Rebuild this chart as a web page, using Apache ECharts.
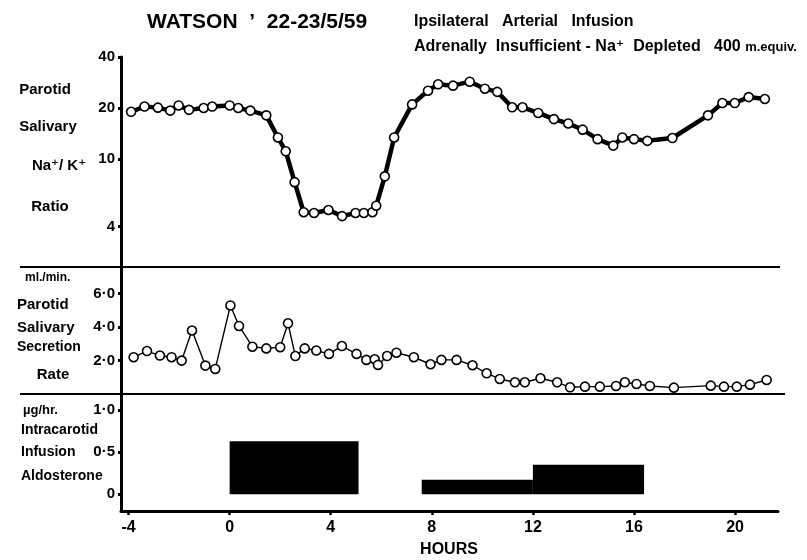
<!DOCTYPE html>
<html>
<head>
<meta charset="utf-8">
<script src="https://cdn.jsdelivr.net/npm/echarts@6/dist/echarts.min.js"></script>
<style>
  html, body { margin: 0; padding: 0; background: #fff; }
  #chart { width: 807px; height: 560px; }
</style>
</head>
<body>
<div id="chart"></div>
<script>
// hours from start of infusion
const ratioHours = [-3.9, -3.37, -2.84, -2.35, -2.02, -1.61, -1.03, -0.69, 0.0, 0.34, 0.82, 1.45, 1.91, 2.22, 2.57, 2.93, 3.34, 3.91, 4.45, 4.98, 5.31, 5.65, 5.8, 6.14, 6.51, 7.22, 7.85, 8.25, 8.84, 9.5, 10.1, 10.59, 11.18, 11.59, 12.21, 12.83, 13.4, 13.97, 14.56, 15.18, 15.54, 16.0, 16.53, 17.52, 18.93, 19.5, 19.99, 20.54, 21.18];
const ratioValues = [19.0, 20.4, 20.1, 19.3, 20.7, 19.5, 20.0, 20.4, 20.7, 20.0, 19.3, 18.1, 13.4, 11.1, 7.3, 4.85, 4.8, 5.0, 4.6, 4.8, 4.8, 4.85, 5.3, 7.9, 13.4, 21.0, 25.3, 27.6, 27.1, 28.6, 26.0, 24.9, 20.2, 20.2, 18.7, 17.2, 16.2, 14.9, 13.1, 12.0, 13.4, 13.1, 12.8, 13.3, 18.1, 21.4, 21.4, 23.2, 22.6];

const rateHours = [-3.8, -3.27, -2.76, -2.3, -1.9, -1.49, -0.96, -0.57, 0.03, 0.37, 0.9, 1.45, 2.0, 2.31, 2.6, 2.97, 3.43, 3.93, 4.44, 5.02, 5.41, 5.74, 5.87, 6.23, 6.6, 7.29, 7.95, 8.38, 8.98, 9.61, 10.17, 10.69, 11.29, 11.68, 12.3, 12.96, 13.47, 14.06, 14.65, 15.29, 15.64, 16.1, 16.63, 17.58, 19.04, 19.56, 20.07, 20.59, 21.25];
const rateValues = [2.2, 2.57, 2.3, 2.2, 2.0, 3.8, 1.7, 1.5, 5.3, 4.07, 2.83, 2.73, 2.8, 4.23, 2.27, 2.73, 2.6, 2.4, 2.87, 2.4, 2.04, 2.08, 1.74, 2.27, 2.47, 2.2, 1.78, 2.04, 2.04, 1.72, 1.24, 0.9, 0.7, 0.7, 0.94, 0.7, 0.4, 0.44, 0.44, 0.48, 0.7, 0.6, 0.48, 0.38, 0.5, 0.44, 0.44, 0.56, 0.84];

// aldosterone infusion periods (µg/hr)
const aldoStart = [0, 7.6, 12];
const aldoEnd = [5.1, 12, 16.4];
const aldoDose = [0.63, 0.17, 0.35];

const hourTicks = [-4, 0, 4, 8, 12, 16, 20];
const ratioTicks = [4, 10, 20, 40];
const rateTicks = [2, 4, 6];
const doseTicks = [0, 0.5, 1];

const FONT = "'Liberation Sans', 'DejaVu Sans', sans-serif";
const myChart = echarts.init(document.getElementById("chart"));

function txt(text, x, y, size, align) {
  return {
    type: "text",
    x: x,
    y: y,
    style: {
      text: text,
      fill: "#000",
      font: "bold " + size + "px " + FONT,
      textAlign: align || "left",
      textVerticalAlign: "middle",
    },
  };
}

function yAxisBase(gridIndex, min, max, ticks, fmt) {
  return {
    type: "value",
    gridIndex: gridIndex,
    min: min,
    max: max,
    position: "left",
    axisLine: { show: true, onZero: false, lineStyle: { color: "#000", width: 3 } },
    axisTick: { show: true, customValues: ticks, length: 3, lineStyle: { width: 3, color: "#000" } },
    axisLabel: {
      customValues: ticks,
      formatter: fmt,
      color: "#000",
      fontFamily: FONT,
      fontWeight: "bold",
      fontSize: 15,
      margin: 6,
    },
    splitLine: { show: false },
  };
}

function xAxisBase(gridIndex, show) {
  return {
    type: "value",
    gridIndex: gridIndex,
    min: -4.3,
    max: 21.7,
    show: show,
    position: "bottom",
    axisLine: { show: true, onZero: false, lineStyle: { color: "#000", width: 3 } },
    axisTick: { show: true, customValues: hourTicks, length: 4, lineStyle: { width: 2.5, color: "#000" } },
    axisLabel: {
      customValues: hourTicks,
      color: "#000",
      fontFamily: FONT,
      fontWeight: "bold",
      fontSize: 16,
      margin: 9,
    },
    splitLine: { show: false },
  };
}

const markerStyle = { color: "#fff", borderColor: "#000", borderWidth: 1.6 };

myChart.setOption({
  animation: false,
  backgroundColor: "#fff",
  grid: [
    { left: 121, right: 29, top: 57, height: 210 },
    { left: 121, right: 29, top: 267, height: 127 },
    { left: 121, right: 29, top: 394, height: 117 },
  ],
  xAxis: [xAxisBase(0, false), xAxisBase(1, false), xAxisBase(2, true)],
  yAxis: [
    yAxisBase(0, Math.log10(40) - 1.2396, Math.log10(40), ratioTicks.map(Math.log10), (v) => String(Math.round(Math.pow(10, v)))),
    yAxisBase(1, 0, 7.6, rateTicks, (v) => v.toFixed(1).replace(".", "·")),
    yAxisBase(2, -0.2, 1.19, doseTicks, (v) => (v === 0 ? "0" : v.toFixed(1).replace(".", "·"))),
  ],
  series: [
    {
      name: "Na/K ratio",
      type: "line",
      xAxisIndex: 0,
      yAxisIndex: 0,
      data: ratioHours.map((h, i) => [h, Math.log10(ratioValues[i])]),
      symbol: "circle",
      symbolSize: 9,
      itemStyle: markerStyle,
      lineStyle: { color: "#000", width: 4.5 },
    },
    {
      name: "secretion rate",
      type: "line",
      xAxisIndex: 1,
      yAxisIndex: 1,
      data: rateHours.map((h, i) => [h, rateValues[i]]),
      symbol: "circle",
      symbolSize: 9,
      itemStyle: markerStyle,
      lineStyle: { color: "#000", width: 1.4 },
    },
    {
      name: "aldosterone",
      type: "custom",
      xAxisIndex: 2,
      yAxisIndex: 2,
      encode: { x: [0, 1], y: 2 },
      data: aldoStart.map((s, i) => [s, aldoEnd[i], aldoDose[i]]),
      renderItem: function (params, api) {
        const p0 = api.coord([api.value(0), api.value(2)]);
        const p1 = api.coord([api.value(1), 0]);
        return {
          type: "rect",
          shape: { x: p0[0], y: p0[1], width: p1[0] - p0[0], height: p1[1] - p0[1] },
          style: { fill: "#000" },
        };
      },
    },
  ],
  graphic: [
    // panel separators
    { type: "line", shape: { x1: 20, y1: 267, x2: 780, y2: 267 }, style: { stroke: "#000", lineWidth: 2 } },
    { type: "line", shape: { x1: 20, y1: 394, x2: 785, y2: 394 }, style: { stroke: "#000", lineWidth: 2 } },
    // title
    txt("WATSON  ’  22-23/5/59", 147, 22, 21),
    txt("Ipsilateral   Arterial   Infusion", 414, 22, 16),
    {
      type: "text",
      x: 414,
      y: 47,
      style: {
        text: "{a|Adrenally  Insufficient - Na⁺  Depleted   400 }{b|m.equiv.}",
        textVerticalAlign: "middle",
        rich: {
          a: { font: "bold 16px " + FONT, fill: "#000" },
          b: { font: "bold 13px " + FONT, fill: "#000" },
        },
      },
    },
    // top panel
    txt("Parotid", 45, 90, 15, "center"),
    txt("Salivary", 48, 127, 15, "center"),
    txt("Na⁺/ K⁺", 59, 166, 15, "center"),
    txt("Ratio", 50, 207, 15, "center"),
    // middle panel
    txt("ml./min.", 25, 278, 12),
    txt("Parotid", 17, 305, 15),
    txt("Salivary", 17, 328, 15),
    txt("Secretion", 17, 347, 14),
    txt("Rate", 53, 375, 15, "center"),
    // bottom panel
    txt("µg/hr.", 23, 410, 13),
    txt("Intracarotid", 21, 430, 14),
    txt("Infusion", 21, 452, 14),
    txt("Aldosterone", 21, 476, 14),
    txt("HOURS", 449, 550, 16, "center"),
  ],
});
</script>
</body>
</html>
